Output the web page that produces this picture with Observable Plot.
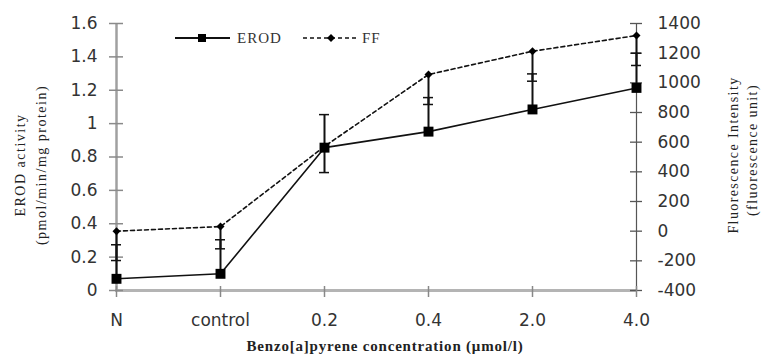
<!DOCTYPE html>
<html>
<head>
<meta charset="utf-8">
<script src="https://cdn.jsdelivr.net/npm/d3@7"></script>
<script src="https://cdn.jsdelivr.net/npm/@observablehq/plot@0.6"></script>
<style>
  html, body { margin: 0; padding: 0; background: #fff; }
  #chart { position: relative; width: 764px; height: 354px; }
</style>
</head>
<body>
<div id="chart"></div>
<script>
// ---- data ----
const categories = ["N", "control", "0.2", "0.4", "2.0", "4.0"];
const erod = [0.07, 0.10, 0.856, 0.952, 1.085, 1.214];
const erodErr = [0.204, 0.204, 0.198, 0.204, 0.213, 0.208];
const ff = [0, 31, 571, 1056, 1213, 1319];
const ffErr = [198, 150, 176, 202, 202, 202];
const leftTicks = [0, 0.2, 0.4, 0.6, 0.8, 1, 1.2, 1.4, 1.6];
const rightTicks = [-400, -200, 0, 200, 400, 600, 800, 1000, 1200, 1400];
const leftDomain = [0, 1.6];
const rightDomain = [-400, 1400];
const seriesNames = ["EROD", "FF"];
const xTitle = "Benzo[a]pyrene concentration (\u03bcmol/l)";
const leftTitle = ["EROD activity", "(pmol/min/mg protein)"];
const rightTitle = ["Fluorescence Intensity", "(fluorescence unit)"];

// map right-axis values into left-axis units
const toLeft = v => (v - rightDomain[0]) / (rightDomain[1] - rightDomain[0]) * (leftDomain[1] - leftDomain[0]) + leftDomain[0];
const fromLeft = v => (v - leftDomain[0]) / (leftDomain[1] - leftDomain[0]) * (rightDomain[1] - rightDomain[0]) + rightDomain[0];

const rows = categories.map((c, i) => ({
  cat: c,
  erod: erod[i], erodTop: erod[i] + erodErr[i],
  ff: toLeft(ff[i]), ffLow: toLeft(ff[i] - ffErr[i])
}));

const first = categories[0], last = categories[categories.length - 1];

const chart = Plot.plot({
  width: 764,
  height: 354,
  marginLeft: 115,
  marginRight: 127,
  marginTop: 23,
  marginBottom: 64,
  style: { fontFamily: "DejaVu Sans", fontSize: "17px", color: "#333", background: "#fff" },
  x: { type: "point", domain: categories, padding: 0 },
  y: { domain: leftDomain },
  marks: [
    // axis lines
    Plot.ruleY([leftDomain[0]], { stroke: "#b4b4b4", strokeWidth: 3 }),
    Plot.ruleX([first], { stroke: "#a0a0a0", strokeWidth: 2.5 }),
    Plot.ruleX([last], { stroke: "#555", strokeWidth: 1.2 }),
    // crossing tick marks
    Plot.ruleY(leftTicks, { y: d => d, x1: () => first, x2: () => first, insetLeft: -7, insetRight: -7, stroke: "#8a8a8a", strokeWidth: 1.5 }),
    Plot.ruleY(rightTicks, { y: d => toLeft(d), x1: () => last, x2: () => last, insetLeft: -6, insetRight: -6, stroke: "#555", strokeWidth: 1.3 }),
    Plot.ruleX(categories, { x: d => d, y1: () => 0, y2: () => 0, insetTop: -4, insetBottom: -7, stroke: "#888", strokeWidth: 1.5 }),
    // tick labels
    Plot.axisY(leftTicks, { anchor: "left", tickSize: 0, tickPadding: 18, tickFormat: d => String(d), label: null }),
    Plot.axisY(rightTicks.map(toLeft), { anchor: "right", tickSize: 0, tickPadding: 20, tickFormat: v => String(Math.round(fromLeft(v))), label: null }),
    Plot.axisX(categories, { anchor: "bottom", tickSize: 0, tickPadding: 23, label: null }),
    // error bars
    Plot.ruleX(rows, { x: "cat", y1: "erod", y2: "erodTop", stroke: "#111", strokeWidth: 2 }),
    Plot.ruleX(rows, { x: "cat", y1: "ff", y2: "ffLow", stroke: "#111", strokeWidth: 2 }),
    Plot.ruleY(rows, { y: "erodTop", x1: "cat", x2: "cat", insetLeft: -5, insetRight: -5, stroke: "#111", strokeWidth: 1.5 }),
    Plot.ruleY(rows, { y: "ffLow", x1: "cat", x2: "cat", insetLeft: -5, insetRight: -5, stroke: "#111", strokeWidth: 1.5 }),
    // series lines
    Plot.line(rows, { x: "cat", y: "erod", stroke: "#111", strokeWidth: 1.6 }),
    Plot.line(rows, { x: "cat", y: "ff", stroke: "#111", strokeWidth: 1.6, strokeDasharray: "4,3" }),
    Plot.dot(rows, { x: "cat", y: "erod", symbol: "square", r: 5.6, fill: "#000", stroke: "none" }),
    Plot.dot(rows, { x: "cat", y: "ff", symbol: "diamond2", r: 3.6, fill: "#000", stroke: "none" })
  ]
});

document.getElementById("chart").appendChild(chart);

// titles and legend drawn into the same svg
const svg = d3.select(chart);
const serif = "Liberation Serif";

svg.append("text")
  .attr("x", 385).attr("y", 346).attr("dy", "0.35em")
  .attr("text-anchor", "middle")
  .attr("font-family", serif).attr("font-size", 15).attr("font-weight", "bold")
  .attr("letter-spacing", 0.8).attr("fill", "#222")
  .text(xTitle);

[[20, 165], [41, 165]].forEach(([x, y], i) => {
  svg.append("text")
    .attr("transform", `translate(${x},${y}) rotate(-90)`)
    .attr("dy", "0.35em").attr("text-anchor", "middle")
    .attr("font-family", serif).attr("font-size", 14)
    .attr("letter-spacing", 1.5).attr("fill", "#222")
    .text(leftTitle[i]);
});
[[733, 155], [752, 150]].forEach(([x, y], i) => {
  svg.append("text")
    .attr("transform", `translate(${x},${y}) rotate(-90)`)
    .attr("dy", "0.35em").attr("text-anchor", "middle")
    .attr("font-family", serif).attr("font-size", 14)
    .attr("letter-spacing", 1.4).attr("fill", "#222")
    .text(rightTitle[i]);
});

// legend
const lg = svg.append("g").attr("text-anchor", "start");
lg.append("line").attr("x1", 175).attr("x2", 230).attr("y1", 38).attr("y2", 38).attr("stroke", "#111").attr("stroke-width", 2);
lg.append("rect").attr("x", 198).attr("y", 34).attr("width", 8).attr("height", 8).attr("fill", "#000");
lg.append("text").attr("x", 237).attr("y", 38).attr("dy", "0.35em").attr("text-anchor", "start")
  .attr("font-family", serif).attr("font-size", 15).attr("letter-spacing", 1).attr("fill", "#333").text(seriesNames[0]);
lg.append("line").attr("x1", 303).attr("x2", 358).attr("y1", 38).attr("y2", 38).attr("stroke", "#111").attr("stroke-width", 1.6).attr("stroke-dasharray", "4,3");
lg.append("path").attr("d", d3.symbol(d3.symbolDiamond2, 40)()).attr("transform", "translate(331,38)").attr("fill", "#000");
lg.append("text").attr("x", 362).attr("y", 38).attr("dy", "0.35em").attr("text-anchor", "start")
  .attr("font-family", serif).attr("font-size", 15).attr("letter-spacing", 1).attr("fill", "#333").text(seriesNames[1]);
</script>
</body>
</html>
